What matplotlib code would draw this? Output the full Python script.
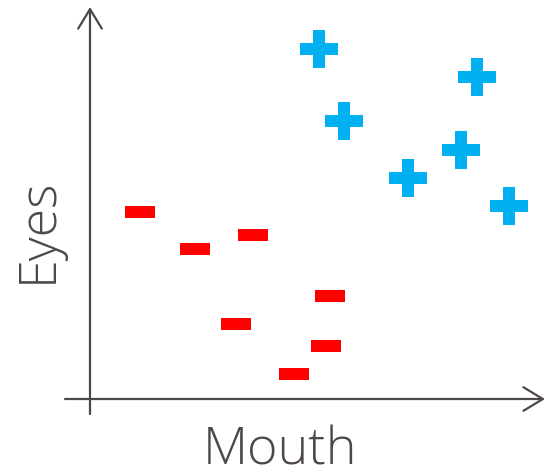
import numpy as np
import matplotlib
matplotlib.use("Agg")
import matplotlib.pyplot as plt
from matplotlib.path import Path

# Data (arbitrary 0-10 units)
plus_mouth = [5.03, 5.58, 6.99, 8.15, 8.51, 9.21]
plus_eyes = [8.93, 7.09, 5.64, 6.35, 8.21, 4.92]
minus_mouth = [1.10, 2.31, 3.58, 3.21, 5.27, 5.19, 4.48]
minus_eyes = [4.77, 3.83, 4.18, 1.91, 2.63, 1.35, 0.64]

axis_color = "#4d4845"
blue = "#00b0f0"
red = "#ff0000"

W, H = 545, 477
fig = plt.figure(figsize=(W / 100, H / 100), dpi=100)
# origin of the axes at pixel (90, 400), top at 8, right at 545
ax = fig.add_axes([90 / W, 77 / H, 455 / W, 392 / H])
ax.set_xlim(0, 10)
ax.set_ylim(0, 10)
ax.axis("off")

# minus marker as a flat rectangle
rect = Path([(-15, -6), (15, -6), (15, 6), (-15, 6), (-15, -6)],
            [Path.MOVETO, Path.LINETO, Path.LINETO, Path.LINETO, Path.CLOSEPOLY])

ax.plot(plus_mouth, plus_eyes, linestyle="none", marker="P", markersize=28,
        color=blue, markeredgewidth=0, clip_on=False)
ax.plot(minus_mouth, minus_eyes, linestyle="none", marker=rect, markersize=21.6,
        color=red, markeredgewidth=0, clip_on=False)

# axes with open arrow heads
arrow = dict(arrowstyle="->,head_length=1.4,head_width=0.85", color=axis_color,
             lw=1.6, shrinkA=0, shrinkB=0, mutation_scale=10)
ax.annotate("", xy=(0, 1), xytext=(0, -15 / 392), xycoords="axes fraction",
            arrowprops=arrow, annotation_clip=False)
ax.annotate("", xy=(1, 0), xytext=(-25 / 455, 0), xycoords="axes fraction",
            arrowprops=arrow, annotation_clip=False)

font = dict(family=["Open Sans", "DejaVu Sans"], weight="light", color=axis_color, fontsize=37.5)
fig.text(280 / W, 1 - 465 / H, "Mouth", ha="center", va="baseline", **font)
fig.text(38 / W, 1 - 230 / H, "Eyes", ha="center", va="center", rotation=90, **font)

fig.savefig("out.png", dpi=100)
